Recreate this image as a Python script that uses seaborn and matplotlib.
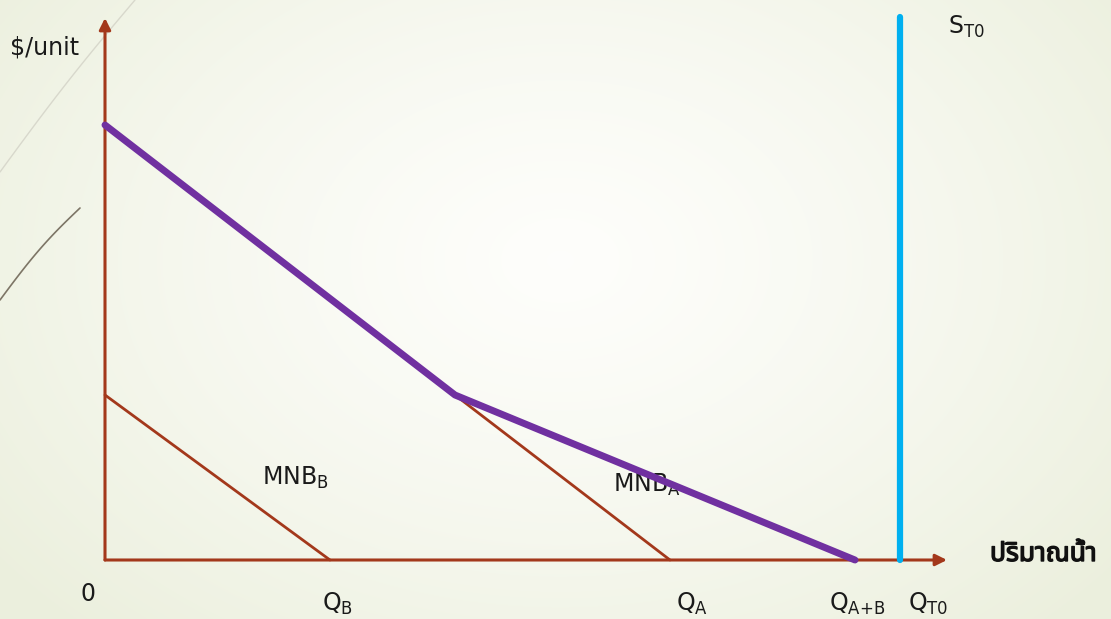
import numpy as np
import pandas as pd
import matplotlib
matplotlib.use("Agg")
import matplotlib.pyplot as plt
import matplotlib.patheffects as pe
import seaborn as sns

# quantities along the horizontal axis (origin at 0)
q_b = 225
q_a = 565
q_ab = 750
q_t0 = 795
kink_q = 350

# prices on the vertical axis
p_b = 165
p_a = 435
p_top = 543

mnb_b = pd.DataFrame({"q": [0, q_b], "p": [p_b, 0]})
mnb_a = pd.DataFrame({"q": [kink_q, q_a], "p": [p_b, 0]})
mnb_sum = pd.DataFrame({"q": [0, kink_q, q_ab], "p": [p_a, p_b, 0]})
supply = pd.DataFrame({"q": [q_t0, q_t0], "p": [0, p_top]})

axis_col = "#a3381b"
purple = "#7030a0"
blue = "#00b0f0"

sns.set_style("white")
plt.rcParams['font.family'] = ['DejaVu Sans']

fig = plt.figure(figsize=(11.11, 6.19), dpi=100)
ax = fig.add_axes([0, 0, 1, 1])

# slide background: soft radial gradient
yy, xx = np.mgrid[0:619, 0:1111]
r = np.sqrt(((xx - 560) / 700.0) ** 2 + ((yy - 260) / 500.0) ** 2)
r = np.clip(r, 0, 1)
c0 = np.array([0.995, 0.995, 0.985])
c1 = np.array([0.925, 0.94, 0.87])
img = c0 + (c1 - c0) * r[..., None] ** 1.3
ax.imshow(img, extent=[-105, 1006, -59, 560], origin="upper", aspect="auto", zorder=0)

# decorative curves on the left
t = np.linspace(0, 1, 50)
ax.plot(-105 + 135 * t, 560 - (172 - 172 * t) + 4 * np.sin(np.pi * t), color="#d8d8cc", lw=1, zorder=1)
ax.plot(-105 + 80 * t, 560 - (300 - 92 * t) + 5 * np.sin(np.pi * t), color="#7d7566", lw=1.2, zorder=1)

# axes with arrows
ax.annotate("", xy=(0, 542), xytext=(0, 0),
            arrowprops=dict(arrowstyle="-|>", color=axis_col, lw=2.2, mutation_scale=17, shrinkA=0, shrinkB=0), zorder=2)
ax.annotate("", xy=(842, 0), xytext=(0, 0),
            arrowprops=dict(arrowstyle="-|>", color=axis_col, lw=2.2, mutation_scale=17, shrinkA=0, shrinkB=0), zorder=2)

sns.lineplot(data=mnb_b, x="q", y="p", color=axis_col, lw=2, ax=ax, zorder=3, sort=False, estimator=None)
sns.lineplot(data=mnb_a, x="q", y="p", color=axis_col, lw=2, ax=ax, zorder=3, sort=False, estimator=None)

fs = 17
ax.text(-95, 513, "$/unit", fontsize=fs, color="#1a1a1a", ha="left", va="center")
ax.text(-17, -34, "0", fontsize=fs, color="#1a1a1a", ha="center", va="center")
ax.text(157, 82, r"$\mathregular{MNB_B}$", fontsize=fs, color="#1a1a1a", ha="left", va="center", zorder=4)
ax.text(508, 75, r"$\mathregular{MNB_A}$", fontsize=fs, color="#1a1a1a", ha="left", va="center", zorder=4)

sns.lineplot(data=mnb_sum, x="q", y="p", color=purple, lw=5, ax=ax, zorder=5, sort=False, estimator=None)
ax.lines[-1].set_solid_capstyle("round")
sns.lineplot(data=supply, x="q", y="p", color=blue, lw=4.5, ax=ax, zorder=5, sort=False, estimator=None)
ax.lines[-1].set_solid_capstyle("round")

ax.set_xlabel("")
ax.set_ylabel("")
ax.set_xlim(-105, 1006)
ax.set_ylim(-59, 560)
ax.axis("off")

for label, x in [(r"$\mathregular{Q_B}$", 217), (r"$\mathregular{Q_A}$", 571),
                 (r"$\mathregular{Q_{A{+}B}}$", 724), (r"$\mathregular{Q_{T0}}$", 803)]:
    ax.text(x, -44, label, fontsize=fs, color="#1a1a1a", ha="left", va="center")

ax.text(843, 533, r"$\mathregular{S_{T0}}$", fontsize=fs, color="#1a1a1a", ha="left", va="center")
ax.text(885, 6, "ปริมาณน้ำ", fontsize=19, fontweight="bold", color="#111111", ha="left", va="center",
        family=["Noto Sans Thai", "Noto Sans", "DejaVu Sans"],
        path_effects=[pe.withStroke(linewidth=1.0, foreground="#111111")])

fig.savefig("out.png", dpi=100)
